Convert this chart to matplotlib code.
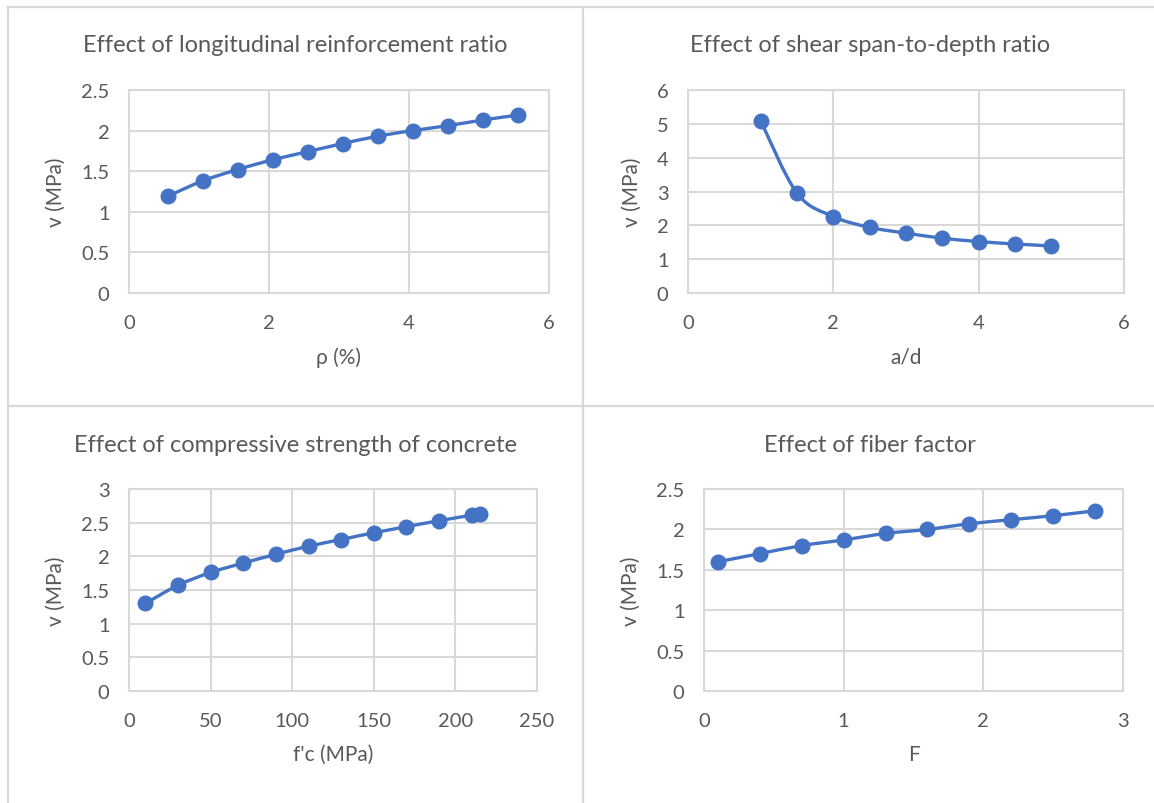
import matplotlib
matplotlib.use("Agg")
import matplotlib.pyplot as plt
from matplotlib.path import Path
from matplotlib.patches import PathPatch
from matplotlib.lines import Line2D
from matplotlib.ticker import FuncFormatter

# data
rho = [0.55, 1.05, 1.55, 2.05, 2.55, 3.05, 3.55, 4.05, 4.55, 5.05, 5.55]
v_rho = [1.19, 1.38, 1.52, 1.64, 1.74, 1.84, 1.93, 2.00, 2.06, 2.13, 2.19]

ad = [1.0, 1.5, 2.0, 2.5, 3.0, 3.5, 4.0, 4.5, 5.0]
v_ad = [5.09, 2.95, 2.26, 1.94, 1.77, 1.62, 1.52, 1.45, 1.39]

fc = [10, 30, 50, 70, 90, 110, 130, 150, 170, 190, 210, 215]
v_fc = [1.30, 1.57, 1.76, 1.90, 2.03, 2.15, 2.25, 2.35, 2.44, 2.53, 2.61, 2.63]

F = [0.1, 0.4, 0.7, 1.0, 1.3, 1.6, 1.9, 2.2, 2.5, 2.8]
v_F = [1.60, 1.70, 1.80, 1.87, 1.95, 2.00, 2.07, 2.12, 2.17, 2.23]

titles = ["Effect of longitudinal reinforcement ratio",
          "Effect of shear span-to-depth ratio",
          "Effect of compressive strength of concrete",
          "Effect of fiber factor"]
xlabels = ["ρ (%)", "a/d", "f'c (MPa)", "F"]

BLUE = "#4472C4"
GRID = "#d9d9d9"
TXT = "#595959"
W, H = 1154, 804

plt.rcParams['font.family'] = ['Lato', 'DejaVu Sans']


def smooth_path(xs, ys):
    # excel style smoothed line: cubic bezier through each point
    pts = list(zip(xs, ys))
    n = len(pts)
    verts = [pts[0]]
    codes = [Path.MOVETO]
    for i in range(n - 1):
        p0 = pts[max(i - 1, 0)]
        p1 = pts[i]
        p2 = pts[i + 1]
        p3 = pts[min(i + 2, n - 1)]
        c1 = (p1[0] + (p2[0] - p0[0]) / 6, p1[1] + (p2[1] - p0[1]) / 6)
        c2 = (p2[0] - (p3[0] - p1[0]) / 6, p2[1] - (p3[1] - p1[1]) / 6)
        verts += [c1, c2, p2]
        codes += [Path.CURVE4] * 3
    return Path(verts, codes)


def panel(box, xs, ys, xticks, yticks, title, xlabel, title_pos):
    l, r, t, b = box
    ax = fig.add_axes([l / W, 1 - b / H, (r - l) / W, (b - t) / H])
    ax.add_patch(PathPatch(smooth_path(xs, ys), fill=False, edgecolor=BLUE,
                           lw=2.4, zorder=3))
    ax.plot(xs, ys, 'o', color=BLUE, markersize=10.5, zorder=4)
    ax.set_xlim(xticks[0], xticks[-1])
    ax.set_ylim(yticks[0], yticks[-1])
    ax.set_xticks(xticks)
    ax.set_yticks(yticks)
    fmt = FuncFormatter(lambda v, p: "{:g}".format(v))
    ax.xaxis.set_major_formatter(fmt)
    ax.yaxis.set_major_formatter(fmt)
    ax.grid(True, color=GRID, lw=1.5)
    ax.set_axisbelow(True)
    for s in ax.spines.values():
        s.set_color(GRID)
        s.set_linewidth(1.5)
    ax.tick_params(axis='y', length=0, labelsize=14.5, labelcolor=TXT, pad=14)
    ax.tick_params(axis='x', length=0, labelsize=14.5, labelcolor=TXT, pad=15)
    ax.set_xlabel(xlabel, fontsize=15, color=TXT, labelpad=11)
    ax.set_ylabel("v (MPa)", fontsize=15, color=TXT, labelpad=11)
    fig.text(title_pos[0] / W, 1 - title_pos[1] / H, title, fontsize=17,
             color=TXT, ha='center', va='baseline')
    return ax


fig = plt.figure(figsize=(W / 100, H / 100), dpi=100)

# panel frames
for xa, ya, xb, yb in [(8, 8, W, 8), (8, 8, 8, H), (583, 8, 583, H), (8, 407, W, 407)]:
    fig.add_artist(Line2D([xa / W, xb / W], [1 - ya / H, 1 - yb / H],
                          transform=fig.transFigure, color=GRID, lw=1.6))

panel((129, 549, 91, 294), rho, v_rho, [0, 2, 4, 6], [0, 0.5, 1, 1.5, 2, 2.5],
      titles[0], xlabels[0], (295, 52))
panel((688, 1124, 91, 294), ad, v_ad, [0, 2, 4, 6], [0, 1, 2, 3, 4, 5, 6],
      titles[1], xlabels[1], (870, 52))
panel((129, 537, 490, 692), fc, v_fc, [0, 50, 100, 150, 200, 250],
      [0, 0.5, 1, 1.5, 2, 2.5, 3], titles[2], xlabels[2], (295, 452))
panel((704, 1123, 490, 692), F, v_F, [0, 1, 2, 3], [0, 0.5, 1, 1.5, 2, 2.5],
      titles[3], xlabels[3], (870, 452))

fig.savefig("out.png", dpi=100, facecolor="white")
